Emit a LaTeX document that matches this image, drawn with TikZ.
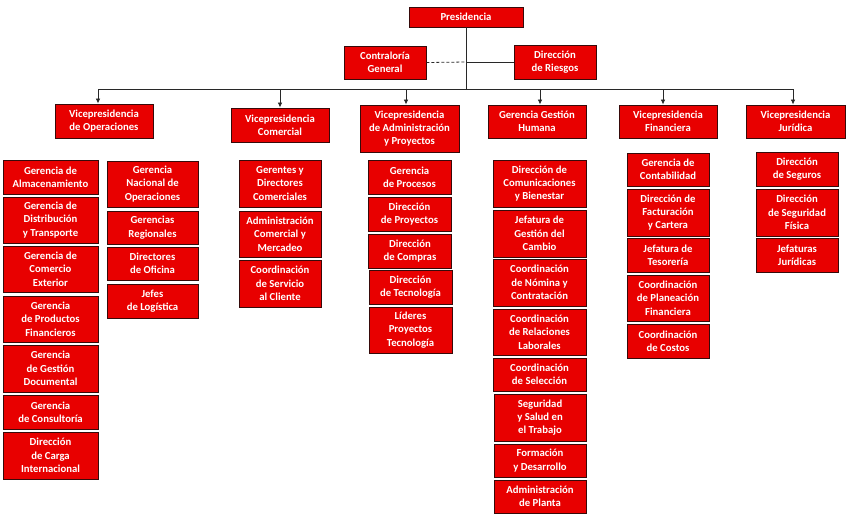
\documentclass[tikz,border=0pt]{standalone}
\usepackage{fontspec}
\setmainfont{Carlito}
\usetikzlibrary{arrows.meta}
\definecolor{boxred}{RGB}{232,0,0}
\definecolor{boxedge}{RGB}{55,10,10}
\definecolor{linec}{RGB}{40,40,40}
\tikzset{
  box/.style={rectangle, fill=boxred, draw=boxedge, line width=0.9pt, inner sep=0pt,
    align=center, text=white, font=\fontsize{10.7}{13.3}\selectfont\bfseries},
  conn/.style={draw=linec, line width=0.8pt},
  arr/.style={conn, -{Latex[length=5pt,width=4.5pt]}}
}
\newcommand\cb[6]{\node[box, minimum width=#5, minimum height={#4-#3}] (#1) at (#2,{(#3+#4)/2}) {#6};}
\begin{document}
\begin{tikzpicture}[x=1pt,y=-1pt]
\useasboundingbox[fill=white] (0,0) rectangle (848,520);
% top
\cb{pres}{466}{7}{27}{114}{Presidencia}
\cb{contra}{385}{46}{79}{82}{Contraloría\\General}
\cb{riesgos}{555}{45}{79}{82}{Dirección\\de Riesgos}
% vice presidencies
\cb{vpops}{104}{104}{138}{98}{Vicepresidencia\\de Operaciones}
\cb{vpcom}{280}{108}{142}{98}{Vicepresidencia\\Comercial}
\cb{vpadm}{409.5}{105}{152}{99}{Vicepresidencia\\de Administración\\y Proyectos}
\cb{gh}{537}{105}{138}{98}{Gerencia Gestión\\Humana}
\cb{vpfin}{668}{105}{138}{98}{Vicepresidencia\\Financiera}
\cb{vpjur}{795.5}{105}{138}{99}{Vicepresidencia\\Jurídica}
% connectors
\coordinate (busL) at (98,89);
\coordinate (busR) at (793,89);
\coordinate (j) at (pres.south |- riesgos.west);
\draw[conn] (busL) -- (busR);
\draw[conn] (pres.south) -- (pres.south |- busL);
\draw[conn, dashed, dash pattern=on 3pt off 2pt] (contra.east) -- (j);
\draw[conn] (j) -- (riesgos.west);
\coordinate (a1) at (98,89);
\coordinate (a2) at (280,89);
\coordinate (a3) at (406,89);
\coordinate (a4) at (540,89);
\coordinate (a5) at (663,89);
\coordinate (a6) at (793,89);
\draw[arr] (a1) -- (a1 |- vpops.north);
\draw[arr] (a2) -- (a2 |- vpcom.north);
\draw[arr] (a3) -- (a3 |- vpadm.north);
\draw[arr] (a4) -- (a4 |- gh.north);
\draw[arr] (a5) -- (a5 |- vpfin.north);
\draw[arr] (a6) -- (a6 |- vpjur.north);
% operaciones left
\cb{o1}{50.5}{160}{194}{95}{Gerencia de\\Almacenamiento}
\cb{o2}{50.5}{197}{243}{95}{Gerencia de\\Distribución\\y Transporte}
\cb{o3}{50.5}{246}{292}{95}{Gerencia de\\Comercio\\Exterior}
\cb{o4}{50.5}{296}{342}{95}{Gerencia\\de Productos\\Financieros}
\cb{o5}{50.5}{345}{392}{95}{Gerencia\\de Gestión\\Documental}
\cb{o6}{50.5}{395}{429}{95}{Gerencia\\de Consultoría}
\cb{o7}{50.5}{432}{479}{95}{Dirección\\de Carga\\Internacional}
% operaciones right
\cb{p1}{152.5}{161}{207}{91}{Gerencia\\Nacional de\\Operaciones}
\cb{p2}{152.5}{211}{244}{91}{Gerencias\\Regionales}
\cb{p3}{152.5}{247}{280}{91}{Directores\\de Oficina}
\cb{p4}{152.5}{284}{318}{91}{Jefes\\de Logística}
% comercial
\cb{c1}{280}{160}{207}{82}{Gerentes y\\Directores\\Comerciales}
\cb{c2}{280}{211}{257}{82}{Administración\\Comercial y\\Mercadeo}
\cb{c3}{280}{260}{307}{82}{Coordinación\\de Servicio\\al Cliente}
% administracion
\cb{d1}{409.5}{160}{194}{83}{Gerencia\\de Procesos}
\cb{d2}{409.5}{197}{231}{83}{Dirección\\de Proyectos}
\cb{d3}{410}{234}{268}{83}{Dirección\\de Compras}
\cb{d4}{410.5}{270}{304}{83}{Dirección\\de Tecnología}
\cb{d5}{410.5}{307}{353}{83}{Líderes\\Proyectos\\Tecnología}
% gestion humana
\cb{g1}{539.5}{160}{207}{93}{Dirección de\\Comunicaciones\\y Bienestar}
\cb{g2}{539.5}{210}{257}{93}{Jefatura de\\Gestión del\\Cambio}
\cb{g3}{539.5}{259}{306}{93}{Coordinación\\de Nómina y\\Contratación}
\cb{g4}{539.5}{309}{355}{93}{Coordinación\\de Relaciones\\Laborales}
\cb{g5}{539.5}{358}{391}{93}{Coordinación\\de Selección}
\cb{g6}{540}{394}{441}{92}{Seguridad\\y Salud en\\el Trabajo}
\cb{g7}{540}{444}{477}{92}{Formación\\y Desarrollo}
\cb{g8}{540}{480}{513}{92}{Administración\\de Planta}
% financiera
\cb{f1}{668}{153}{186}{82}{Gerencia de\\Contabilidad}
\cb{f2}{668}{189}{236}{82}{Dirección de\\Facturación\\y Cartera}
\cb{f3}{668}{238}{272}{82}{Jefatura de\\Tesorería}
\cb{f4}{668}{275}{321}{82}{Coordinación\\de Planeación\\Financiera}
\cb{f5}{668}{324}{358}{82}{Coordinación\\de Costos}
% juridica
\cb{j1}{797}{152}{186}{82}{Dirección\\de Seguros}
\cb{j2}{797}{189}{236}{82}{Dirección\\de Seguridad\\Física}
\cb{j3}{797}{238}{272}{82}{Jefaturas\\Jurídicas}
\end{tikzpicture}
\end{document}
